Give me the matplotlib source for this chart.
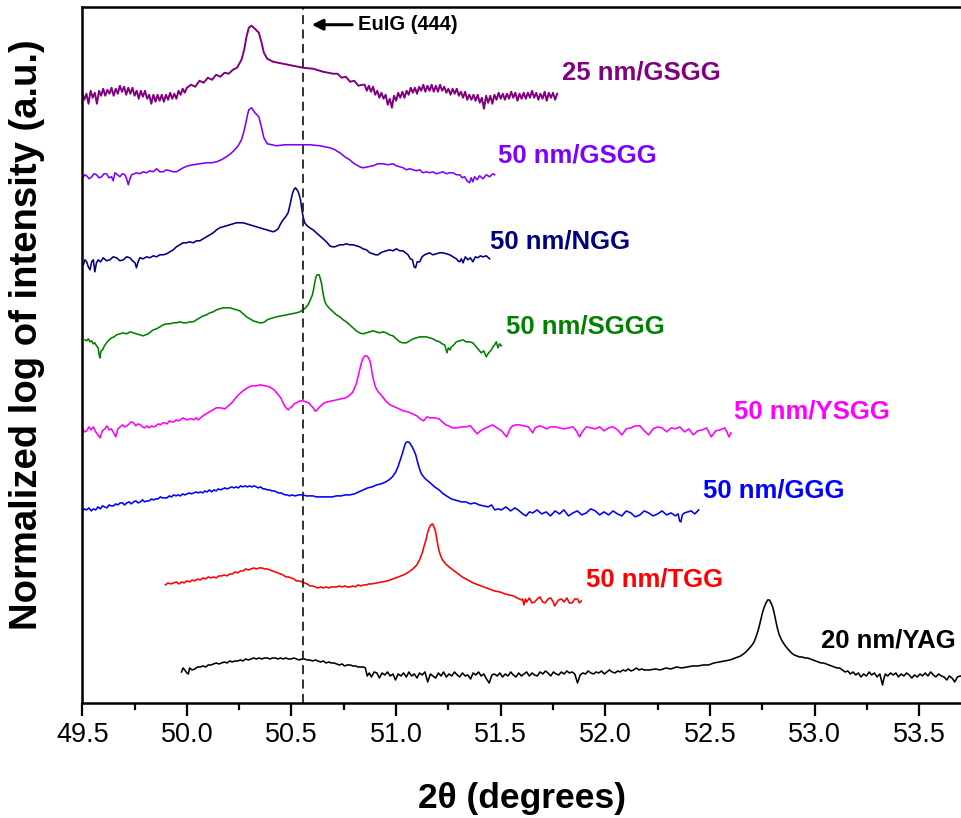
import matplotlib
matplotlib.use("Agg")
import matplotlib.pyplot as plt

plt.rcParams['font.family'] = ['Liberation Sans', 'DejaVu Sans']

# ---- XRD scans around the garnet (444) reflection, stacked (log intensity, offset) ----
gsgg25_x = [49.50,49.51,49.52,49.53,49.54,49.55,49.56,49.57,49.58,49.59,49.60,49.61,49.62,49.63,49.64,49.65,49.66,49.67,49.68,49.69,49.70,49.71,49.72,49.73,49.74,49.75,49.76,49.77,49.78,49.79,49.80,49.81,49.82,49.83,49.84,49.85,49.86,49.87,49.88,49.89,49.90,49.91,49.92,49.93,49.94,49.95,49.96,49.97,49.98,49.99,50.00,
            50.02,50.04,50.06,50.08,50.10,50.12,50.14,50.16,50.18,50.20,50.22,50.24,
            50.245,50.261,50.274,50.285,50.296,50.309,50.325,50.344,50.356,50.368,50.384,50.412,50.460,50.508,50.555,50.603,50.651,50.699,
            50.72,50.74,50.76,50.78,50.80,50.82,50.84,
            50.85,50.86,50.87,50.88,50.89,50.90,50.91,50.92,50.93,50.94,50.95,50.96,50.97,50.98,50.99,51.00,51.01,51.02,51.03,51.04,51.05,51.06,51.07,51.08,51.09,51.10,51.11,51.12,51.13,51.14,51.15,51.16,51.17,51.18,51.19,51.20,51.21,51.22,51.23,51.24,51.25,51.26,51.27,51.28,51.29,51.30,51.31,51.32,51.33,51.34,51.35,51.36,51.37,51.38,51.39,51.40,51.41,51.42,51.43,51.44,51.45,51.46,51.47,51.48,51.49,51.50,51.51,51.52,51.53,51.54,51.55,51.56,51.57,51.58,51.59,51.60,51.61,51.62,51.63,51.64,51.65,51.66,51.67,51.68,51.69,51.70,51.71,51.72,51.73,51.74,51.75,51.76,51.77]
gsgg25_y = [610,603,609,599,612,605,610,599,612,607,614,607,613,609,615,607,614,609,617,611,616,608,615,609,615,607,612,604,612,606,612,604,608,599,608,601,608,602,608,601,608,603,610,604,609,604,612,608,614,610,615,
            618,616,622,620,625,623,628,626,630,629,633,635,
            637,643,653,666,675,677,674,670,661,650,644,641,639,637,635,634,631,629,
            629,625,626,621,622,617,618,
            618,612,617,611,616,608,612,605,610,604,608,598,604,595,607,602,610,605,611,605,612,608,615,610,615,609,616,612,618,611,617,612,618,611,617,611,618,612,616,610,614,608,614,609,614,607,611,605,611,603,608,603,608,602,608,600,605,594,607,600,607,599,608,603,610,604,609,603,609,604,611,605,610,602,609,604,610,604,610,605,612,605,610,603,609,604,611,602,610,605,610,603,609]

gsgg50_x = [49.502,49.512,49.521,49.533,49.545,49.556,49.568,49.580,49.592,49.604,49.616,49.628,49.640,49.648,49.656,49.668,49.680,49.692,49.704,49.712,49.720,49.728,49.736,49.748,49.759,49.775,49.791,49.807,49.823,49.839,49.855,49.871,49.887,49.903,49.919,49.935,49.950,49.966,49.982,50.006,50.030,50.062,50.094,50.118,50.142,50.165,50.189,50.209,50.229,50.245,50.261,50.272,50.282,50.290,50.296,50.309,50.325,50.344,50.356,50.368,50.384,50.428,50.468,50.508,50.547,50.587,50.635,50.683,50.707,50.731,50.755,50.778,50.794,50.810,50.826,50.842,50.866,50.890,50.914,50.937,50.961,50.985,51.001,51.017,51.033,51.049,51.065,51.081,51.097,51.113,51.128,51.144,51.160,51.176,51.192,51.208,51.224,51.240,51.256,51.272,51.288,51.304,51.316,51.327,51.339,51.351,51.359,51.367,51.375,51.387,51.399,51.415,51.431,51.447,51.463,51.471]
gsgg50_y = [525,528,527,524,526,529,528,525,526,529,529,525,526,522,530,528,526,529,528,524,518,524,528,529,530,529,531,530,532,531,534,531,531,533,532,531,531,533,535,537,538,539,540,540,541,543,546,549,553,557,563,571,580,588,593,595,590,586,576,565,559,557,558,558,558,558,557,555,553,550,546,543,540,538,536,535,536,537,539,539,538,539,537,536,535,533,534,533,532,533,530,531,530,531,529,530,531,529,530,530,528,528,525,526,522,520,525,521,526,523,527,524,528,526,529,528]

ngg_x = [49.505,49.513,49.521,49.529,49.537,49.545,49.553,49.560,49.568,49.576,49.588,49.600,49.616,49.632,49.648,49.664,49.680,49.696,49.712,49.728,49.740,49.752,49.759,49.767,49.775,49.791,49.807,49.823,49.839,49.855,49.871,49.887,49.903,49.919,49.935,49.950,49.966,49.982,49.998,50.014,50.030,50.046,50.062,50.078,50.094,50.110,50.126,50.142,50.157,50.173,50.189,50.205,50.221,50.237,50.253,50.269,50.285,50.301,50.317,50.333,50.348,50.364,50.380,50.396,50.412,50.424,50.436,50.448,50.460,50.472,50.484,50.494,50.503,50.511,50.519,50.526,50.532,50.538,50.543,50.548,50.552,50.558,50.563,50.575,50.587,50.603,50.619,50.635,50.651,50.667,50.683,50.695,50.707,50.719,50.731,50.747,50.762,50.778,50.794,50.810,50.826,50.842,50.858,50.874,50.890,50.902,50.914,50.926,50.937,50.953,50.969,50.985,51.001,51.017,51.033,51.045,51.057,51.068,51.078,51.086,51.093,51.101,51.113,51.124,51.136,51.148,51.160,51.176,51.192,51.208,51.224,51.240,51.256,51.272,51.288,51.296,51.304,51.312,51.320,51.331,51.343,51.355,51.367,51.379,51.391,51.403,51.415,51.431,51.447]
ngg_y = [438,443,441,436,433,441,443,431,440,443,441,445,442,443,446,445,442,443,446,445,442,440,435,441,445,444,446,445,447,446,448,448,449,451,453,456,458,460,460,461,460,462,462,464,466,468,470,473,475,476,477,478,479,480,480,480,479,478,477,476,475,474,473,472,471,472,474,479,483,486,490,499,508,513,515,513,511,507,503,496,490,484,480,477,475,473,470,467,464,461,457,456,456,457,458,458,459,458,458,457,456,454,453,450,449,448,448,450,451,452,453,452,454,452,452,450,448,444,443,436,435,441,441,446,448,449,450,448,449,450,450,449,448,446,444,442,441,444,440,446,443,445,441,446,445,447,446,447,444]

sggg_x = [49.513,49.521,49.529,49.537,49.545,49.553,49.560,49.568,49.576,49.580,49.584,49.590,49.597,49.606,49.616,49.628,49.640,49.652,49.664,49.680,49.696,49.712,49.728,49.744,49.759,49.775,49.791,49.803,49.815,49.827,49.839,49.855,49.871,49.887,49.903,49.919,49.935,49.950,49.966,49.982,49.998,50.014,50.030,50.046,50.062,50.078,50.094,50.110,50.126,50.142,50.157,50.173,50.189,50.205,50.221,50.237,50.253,50.269,50.285,50.301,50.317,50.333,50.348,50.360,50.372,50.384,50.396,50.412,50.428,50.452,50.476,50.500,50.524,50.540,50.555,50.567,50.579,50.590,50.600,50.606,50.611,50.617,50.622,50.627,50.632,50.638,50.643,50.648,50.654,50.660,50.667,50.683,50.699,50.715,50.731,50.747,50.762,50.778,50.794,50.810,50.826,50.842,50.858,50.874,50.890,50.906,50.921,50.937,50.953,50.969,50.985,51.001,51.017,51.033,51.049,51.065,51.081,51.097,51.113,51.128,51.144,51.160,51.176,51.192,51.208,51.220,51.232,51.238,51.243,51.250,51.258,51.264,51.276,51.288,51.304,51.320,51.335,51.351,51.367,51.383,51.395,51.407,51.419,51.427,51.431,51.439,51.447,51.455,51.463,51.471,51.479,51.487,51.495,51.503]
sggg_y = [363,362,364,361,362,359,360,357,355,349,345,352,353,357,360,363,365,366,368,369,370,369,371,370,369,368,367,368,369,371,373,374,376,378,379,379,380,380,381,380,380,381,381,383,385,387,388,390,391,393,394,395,395,395,394,393,392,389,386,384,382,381,380,380,381,383,384,385,386,387,388,389,390,391,393,395,398,403,408,414,420,426,428,428,428,424,420,413,406,401,398,394,391,388,386,383,381,378,375,372,370,369,370,371,372,371,370,371,370,368,367,364,361,360,360,362,364,365,366,366,366,365,364,362,361,359,358,354,350,355,353,356,358,361,362,363,361,361,360,356,353,350,352,348,346,349,351,353,356,358,361,355,359,357]

ysgg_x = [49.500,49.510,49.521,49.532,49.542,49.553,49.564,49.575,49.585,49.596,49.607,49.618,49.628,49.639,49.650,49.660,49.670,49.681,49.692,49.702,49.713,49.724,49.734,49.745,49.756,49.767,49.777,49.788,49.799,49.809,49.820,49.831,49.841,49.852,49.863,49.873,49.884,49.894,49.905,49.916,49.926,49.937,49.948,49.958,49.969,49.980,49.990,50.001,50.012,50.023,50.033,50.044,50.054,50.065,50.076,50.092,50.108,50.124,50.140,50.161,50.182,50.198,50.214,50.230,50.246,50.268,50.289,50.310,50.331,50.352,50.374,50.395,50.417,50.433,50.449,50.460,50.470,50.478,50.485,50.493,50.502,50.512,50.523,50.539,50.555,50.569,50.583,50.594,50.604,50.612,50.619,50.630,50.640,50.656,50.672,50.693,50.715,50.736,50.758,50.774,50.790,50.800,50.811,50.819,50.826,50.834,50.843,50.851,50.860,50.868,50.875,50.880,50.885,50.893,50.901,50.914,50.928,50.950,50.971,50.993,51.014,51.035,51.056,51.078,51.099,51.115,51.131,51.147,51.163,51.184,51.205,51.221,51.237,51.253,51.269,51.290,51.312,51.333,51.355,51.371,51.387,51.403,51.419,51.440,51.461,51.482,51.504,51.520,51.528,51.536,51.547,51.557,51.573,51.589,51.610,51.632,51.643,51.653,51.664,51.685,51.701,51.717,51.738,51.760,51.781,51.802,51.824,51.845,51.861,51.877,51.893,51.909,51.930,51.952,51.973,51.994,52.016,52.037,52.058,52.079,52.100,52.122,52.143,52.165,52.186,52.207,52.228,52.250,52.271,52.293,52.314,52.335,52.356,52.378,52.399,52.420,52.441,52.463,52.484,52.506,52.527,52.548,52.570,52.581,52.591,52.600]
ysgg_y = [275,271,272,276,273,276,271,268,265,272,274,277,273,274,270,266,274,276,278,276,277,279,281,280,277,279,278,276,275,277,275,277,276,277,279,278,280,280,279,282,281,281,283,282,283,285,284,283,284,284,283,285,283,285,287,289,291,293,295,295,294,297,300,304,308,312,315,317,317,318,317,316,313,309,305,300,296,294,293,295,296,299,300,302,302,301,300,297,295,292,292,295,297,300,301,302,303,304,305,307,310,314,320,327,333,340,345,347,347,345,342,337,330,322,316,311,308,302,298,296,294,292,291,289,287,284,282,286,285,285,284,281,278,277,275,275,276,276,277,273,269,272,274,276,278,275,272,268,266,270,275,277,278,278,277,276,273,270,275,277,276,274,276,276,275,274,275,276,272,266,272,276,275,274,276,272,275,276,273,268,274,275,277,277,272,268,274,276,275,271,275,274,276,271,274,268,272,273,275,266,272,273,275,271,266,270]

ggg_x = [49.500,49.510,49.521,49.532,49.543,49.553,49.564,49.575,49.586,49.596,49.607,49.618,49.628,49.639,49.649,49.660,49.670,49.681,49.692,49.702,49.713,49.724,49.734,49.745,49.756,49.767,49.777,49.788,49.799,49.809,49.820,49.831,49.841,49.852,49.862,49.873,49.884,49.894,49.905,49.916,49.926,49.937,49.948,49.958,49.969,49.980,49.990,50.001,50.012,50.022,50.033,50.044,50.054,50.065,50.076,50.086,50.097,50.108,50.118,50.129,50.140,50.150,50.161,50.172,50.182,50.193,50.203,50.214,50.225,50.235,50.246,50.257,50.268,50.278,50.289,50.300,50.310,50.321,50.331,50.342,50.353,50.363,50.374,50.385,50.395,50.406,50.417,50.428,50.438,50.449,50.459,50.470,50.481,50.491,50.502,50.518,50.534,50.555,50.571,50.587,50.603,50.619,50.635,50.651,50.667,50.683,50.694,50.715,50.736,50.758,50.779,50.800,50.822,50.843,50.864,50.885,50.907,50.928,50.950,50.966,50.982,50.996,51.009,51.020,51.031,51.039,51.046,51.053,51.060,51.068,51.077,51.086,51.094,51.101,51.109,51.117,51.124,51.140,51.163,51.184,51.205,51.226,51.248,51.264,51.280,51.296,51.312,51.333,51.355,51.376,51.397,51.418,51.440,51.456,51.472,51.488,51.504,51.525,51.547,51.568,51.589,51.605,51.621,51.637,51.653,51.674,51.696,51.717,51.738,51.760,51.781,51.802,51.824,51.845,51.866,51.888,51.909,51.930,51.952,51.973,51.994,52.016,52.037,52.058,52.079,52.100,52.122,52.143,52.165,52.186,52.207,52.228,52.250,52.271,52.293,52.314,52.335,52.348,52.355,52.361,52.368,52.378,52.394,52.410,52.428,52.446]
ggg_y = [191,194,193,195,192,194,193,196,194,197,196,195,198,197,197,199,198,200,200,198,200,201,199,201,202,200,201,203,201,202,202,204,203,204,204,206,205,205,205,207,206,208,207,208,207,209,208,209,210,209,210,211,210,211,210,212,211,213,211,213,212,214,213,214,215,214,215,216,215,216,215,217,216,217,216,217,216,217,216,215,216,214,214,213,213,212,212,211,210,210,209,208,208,207,208,207,208,208,207,207,207,206,206,206,206,206,206,207,207,208,208,209,211,213,215,216,218,219,221,223,226,230,236,243,250,256,260,261,261,259,256,252,248,242,236,231,228,224,220,216,213,209,206,204,203,202,201,201,199,200,198,197,196,198,193,194,193,196,192,195,192,189,187,191,190,193,189,191,187,192,189,193,187,190,192,188,190,194,192,188,191,188,192,189,187,192,190,186,188,192,190,187,189,192,188,190,187,189,182,181,188,190,191,192,189,193]

tgg_x = [49.897,49.910,49.923,49.936,49.950,49.962,49.975,49.987,50.000,50.013,50.025,50.038,50.051,50.064,50.077,50.089,50.102,50.115,50.128,50.140,50.153,50.166,50.179,50.192,50.205,50.218,50.230,50.243,50.256,50.269,50.281,50.294,50.307,50.320,50.332,50.345,50.358,50.371,50.384,50.396,50.409,50.422,50.435,50.447,50.460,50.473,50.485,50.498,50.511,50.524,50.537,50.550,50.562,50.575,50.588,50.601,50.614,50.627,50.640,50.652,50.665,50.678,50.690,50.703,50.716,50.729,50.742,50.754,50.767,50.780,50.793,50.805,50.818,50.831,50.844,50.857,50.870,50.882,50.908,50.934,50.959,50.985,51.010,51.036,51.061,51.080,51.099,51.112,51.125,51.134,51.143,51.150,51.158,51.166,51.174,51.181,51.189,51.196,51.204,51.213,51.222,51.237,51.253,51.272,51.291,51.316,51.342,51.368,51.394,51.419,51.445,51.470,51.496,51.509,51.521,51.540,51.560,51.579,51.598,51.604,51.611,51.618,51.624,51.637,51.649,51.662,51.675,51.688,51.700,51.713,51.726,51.739,51.751,51.758,51.764,51.777,51.790,51.803,51.816,51.828,51.841,51.854,51.867,51.876,51.885]
tgg_y = [118,120,119,120,121,119,121,120,122,121,123,122,124,123,125,124,126,125,126,125,127,127,128,127,129,129,131,130,132,132,134,133,134,135,134,135,135,134,134,133,132,131,130,129,128,126,126,125,124,122,122,121,120,119,117,117,116,115,116,115,116,115,116,116,116,117,116,117,116,116,117,116,118,117,118,118,119,119,120,121,122,124,126,128,131,134,138,143,150,157,163,170,175,178,179,176,171,162,153,147,143,139,136,133,130,126,123,120,118,116,114,112,111,110,109,108,107,105,103,104,98,104,101,105,100,101,104,106,101,100,104,105,101,97,99,103,104,101,105,100,100,104,104,100,102]

yag_x = [49.974,49.982,49.990,50.000,50.007,50.013,50.025,50.038,50.051,50.064,50.077,50.090,50.102,50.115,50.128,50.140,50.153,50.166,50.179,50.192,50.205,50.217,50.230,50.243,50.256,50.268,50.281,50.294,50.307,50.320,50.332,50.345,50.358,50.371,50.384,50.396,50.409,50.422,50.435,50.447,50.460,50.473,50.485,50.498,50.511,50.524,50.537,50.550,50.562,50.575,50.588,50.601,50.614,50.626,50.639,50.652,50.665,50.678,50.690,50.703,50.716,50.729,50.742,50.754,50.767,50.780,50.793,50.806,50.818,50.831,50.844,50.853,50.862,50.872,50.882,50.895,50.908,50.920,50.933,50.946,50.959,50.972,50.985,50.997,51.010,51.023,51.036,51.049,51.061,51.074,51.087,51.100,51.112,51.125,51.138,51.151,51.164,51.176,51.189,51.202,51.215,51.227,51.240,51.253,51.266,51.279,51.292,51.304,51.317,51.330,51.343,51.356,51.368,51.381,51.394,51.407,51.419,51.432,51.445,51.458,51.470,51.483,51.496,51.509,51.522,51.535,51.548,51.560,51.573,51.586,51.599,51.611,51.624,51.637,51.650,51.662,51.675,51.688,51.701,51.714,51.726,51.739,51.752,51.765,51.777,51.790,51.803,51.816,51.828,51.841,51.854,51.867,51.880,51.892,51.905,51.918,51.931,51.944,51.956,51.969,51.982,51.995,52.007,52.020,52.033,52.046,52.059,52.071,52.084,52.097,52.110,52.123,52.135,52.148,52.161,52.174,52.186,52.212,52.238,52.263,52.289,52.314,52.340,52.365,52.391,52.417,52.442,52.468,52.493,52.519,52.545,52.570,52.596,52.621,52.647,52.660,52.672,52.685,52.698,52.711,52.720,52.728,52.736,52.744,52.752,52.760,52.768,52.776,52.784,52.792,52.800,52.808,52.815,52.821,52.830,52.840,52.851,52.864,52.877,52.890,52.903,52.916,52.928,52.941,52.954,52.967,52.979,52.992,53.005,53.018,53.031,53.043,53.056,53.069,53.082,53.095,53.107,53.120,53.133,53.146,53.159,53.171,53.184,53.197,53.209,53.222,53.235,53.248,53.261,53.273,53.286,53.299,53.312,53.320,53.325,53.331,53.338,53.350,53.363,53.376,53.389,53.401,53.414,53.427,53.440,53.452,53.465,53.478,53.491,53.504,53.516,53.529,53.542,53.555,53.568,53.580,53.593,53.606,53.619,53.632,53.644,53.657,53.670,53.683,53.696,53.710]
yag_y = [31,35,33,30,29,35,33,34,36,36,37,36,38,38,39,40,39,40,41,40,42,41,42,42,43,42,44,43,44,45,44,45,44,45,45,44,45,45,44,45,44,45,44,44,45,44,43,44,44,43,43,42,43,42,41,42,40,41,40,40,39,38,39,37,38,38,37,37,36,36,36,35,27,30,26,31,30,25,30,28,31,27,29,23,29,27,30,26,31,27,29,25,30,28,31,21,29,27,25,30,27,31,26,29,27,31,28,26,30,27,28,24,30,28,31,27,29,24,20,28,29,27,30,26,29,27,31,28,26,30,27,29,31,27,30,28,27,31,29,32,30,27,31,29,28,31,29,32,30,31,29,20,28,30,29,32,30,29,31,30,32,29,31,33,31,30,32,31,33,32,34,32,33,35,33,34,33,33,34,33,35,34,36,35,36,37,37,38,38,40,41,42,43,45,47,49,51,54,57,61,66,71,77,84,91,96,100,103,103,100,96,89,82,76,69,64,60,56,53,50,48,47,46,46,45,45,44,43,42,41,40,40,39,38,37,36,35,35,33,31,32,29,31,28,30,26,29,27,31,28,30,26,29,22,18,24,29,27,30,28,30,26,29,27,30,28,25,28,26,29,27,30,27,31,28,26,29,27,26,23,27,25,21,26,27,26]

series = [
    (gsgg25_x, gsgg25_y, '#800080', '25 nm/GSGG', 51.794, 630),
    (gsgg50_x, gsgg50_y, '#8000FF', '50 nm/GSGG', 51.485, 547),
    (ngg_x, ngg_y, '#000080', '50 nm/NGG', 51.450, 461),
    (sggg_x, sggg_y, '#008000', '50 nm/SGGG', 51.523, 376),
    (ysgg_x, ysgg_y, '#FF00FF', '50 nm/YSGG', 52.617, 291),
    (ggg_x, ggg_y, '#0000FF', '50 nm/GGG', 52.469, 212),
    (tgg_x, tgg_y, '#FF0000', '50 nm/TGG', 51.910, 123),
    (yag_x, yag_y, '#000000', '20 nm/YAG', 53.031, 62),
]

eulg_peak = 50.556

fig = plt.figure(figsize=(9.61, 8.18), dpi=100)
ax = fig.add_axes([0.0856, 0.1406, 0.9144, 0.8512])

for xs, ys, col, name, lx, ly in series:
    lw = 1.4 if name == '25 nm/GSGG' else 1.15
    ax.plot(xs, ys, color=col, lw=lw)
    ax.text(lx, ly, name, color=col, fontsize=18.5, fontweight='bold',
            ha='left', va='center')

ax.axvline(eulg_peak, color='#222222', lw=1.3, dashes=(5, 3))
ax.annotate('', xy=(50.597, 678), xytext=(50.79, 678),
            arrowprops=dict(arrowstyle='-|>', color='black', lw=2.2,
                            mutation_scale=16, shrinkA=0, shrinkB=0))
ax.text(50.82, 678, 'EuIG (444)', fontsize=14.5, fontweight='bold',
        ha='left', va='center')

ax.set_xlim(49.5, 53.7)
ax.set_ylim(0, 696)
ax.set_xticks([49.5, 50.0, 50.5, 51.0, 51.5, 52.0, 52.5, 53.0, 53.5])
ax.set_xticklabels(['49.5', '50.0', '50.5', '51.0', '51.5', '52.0', '52.5', '53.0', '53.5'])
ax.set_xticks([49.75, 50.25, 50.75, 51.25, 51.75, 52.25, 52.75, 53.25], minor=True)
ax.set_yticks([])
ax.tick_params(axis='x', which='major', length=9, width=1.6, direction='out',
               labelsize=19.5, pad=5)
ax.tick_params(axis='x', which='minor', length=5, width=1.6, direction='out')
for side in ('left', 'bottom', 'top'):
    ax.spines[side].set_linewidth(1.8)
ax.spines['right'].set_visible(False)

ax.set_xlabel('2θ (degrees)', fontsize=25.5, fontweight='bold', labelpad=24)
ax.set_ylabel('Normalized log of intensity (a.u.)', fontsize=27.5, fontweight='bold')
ax.yaxis.set_label_coords(-0.042, 0.529)

fig.savefig('out.png', dpi=100)
